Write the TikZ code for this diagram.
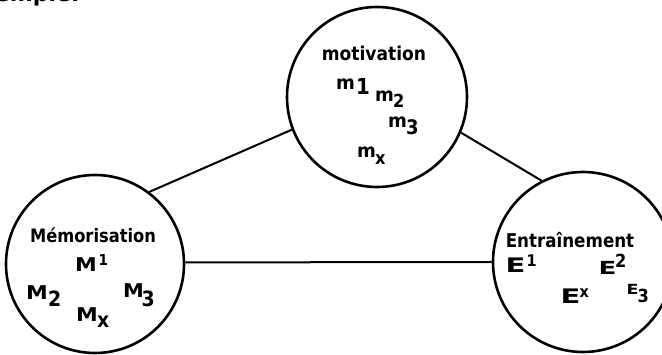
\documentclass[tikz,border=0pt]{standalone}
\usepackage{graphicx}
\usepackage{fontspec}
\setmainfont{DejaVu Sans}
\newcommand\fsz[1]{\fontsize{#1}{#1}\selectfont}
\newcommand\wide[2]{\scalebox{#1}[1]{#2}}
% letter with an index: letter size, letter, shift right, raise, index size, index
\newcommand\term[6]{\makebox[0pt][l]{\fsz{#1}#2}\hspace{#3pt}\raisebox{#4pt}{\fsz{#5}\wide{0.9}{#6}}}
\tikzset{
  x=1pt, y=-1pt,
  ring/.style={circle, draw, line width=2.6pt, inner sep=0pt, minimum size=#1},
  link/.style={line width=2pt},
  title/.style={inner sep=0pt, anchor=base, font=\bfseries\fsz{#1}},
  symb/.style={inner sep=0pt, anchor=base west, font=\bfseries},
}
\begin{document}
\begin{tikzpicture}
\useasboundingbox (0,0) rectangle (662,355);
\clip (0,0) rectangle (662,355);

% heading cut by the top edge
\node[inner sep=0pt, anchor=base east, font=\fsz{22}\bfseries] (head) at (80,2) {Exemple:};

% the three circles
\node[ring=180] (mot) at (377,97) {};
\node[ring=178] (mem) at (95,264) {};
\node[ring=180] (ent) at (583,262) {};

% connectors
\draw[link] (mem.53) -- (mot.201);
\draw[link] (mot.337) -- (ent.117);
\draw[link] (mem.1) -- (ent.180);

% motivation
\node[title=19] (tmot) at (374,61) {\wide{0.9}{motivation}};
\node[symb] (m1) at (336,90) {\term{19}{\wide{0.95}{m}}{20}{-5}{22}{1}};
\node[symb] (m2) at (375,102) {\term{19}{\wide{0.95}{m}}{18}{-6}{18}{2}};
\node[symb] (m3) at (388,128) {\term{19}{\wide{0.95}{m}}{18}{-7}{20}{3}};
\node[symb] (mx) at (357,158) {\term{19}{\wide{0.95}{m}}{18}{-7}{18}{x}};

% Mémorisation
\node[title=18.5] (tmem) at (93,243) {\wide{0.88}{Mémorisation}};
\node[symb] (M1) at (75,272) {\term{19}{\wide{1.15}{M}}{23.5}{6}{15}{1}};
\node[symb] (M2) at (26,300) {\term{19}{\wide{1.15}{M}}{22}{-7}{21}{2}};
\node[symb] (M3) at (123,298) {\term{19}{\wide{1.1}{M}}{18.5}{-9}{21}{3}};
\node[symb] (Mx) at (76,322) {\term{19}{\wide{1.15}{M}}{21}{-6}{21}{x}};

% Entraînement
\node[title=19] (tent) at (570,248) {\wide{0.88}{Entraînement}};
\node[symb] (E1) at (505.5,273) {\term{20}{\wide{1.45}{E}}{21}{6}{16}{1}};
\node[symb] (E2) at (598.5,275) {\term{18}{\wide{1.45}{E}}{16.5}{7}{18}{2}};
\node[symb] (Ex) at (560.5,304) {\term{20}{\wide{1.45}{E}}{19}{6}{16}{x}};
\node[symb] (E3) at (626.5,295) {\term{14}{\wide{1.25}{E}}{11}{-8}{18}{3}};
\end{tikzpicture}
\end{document}
